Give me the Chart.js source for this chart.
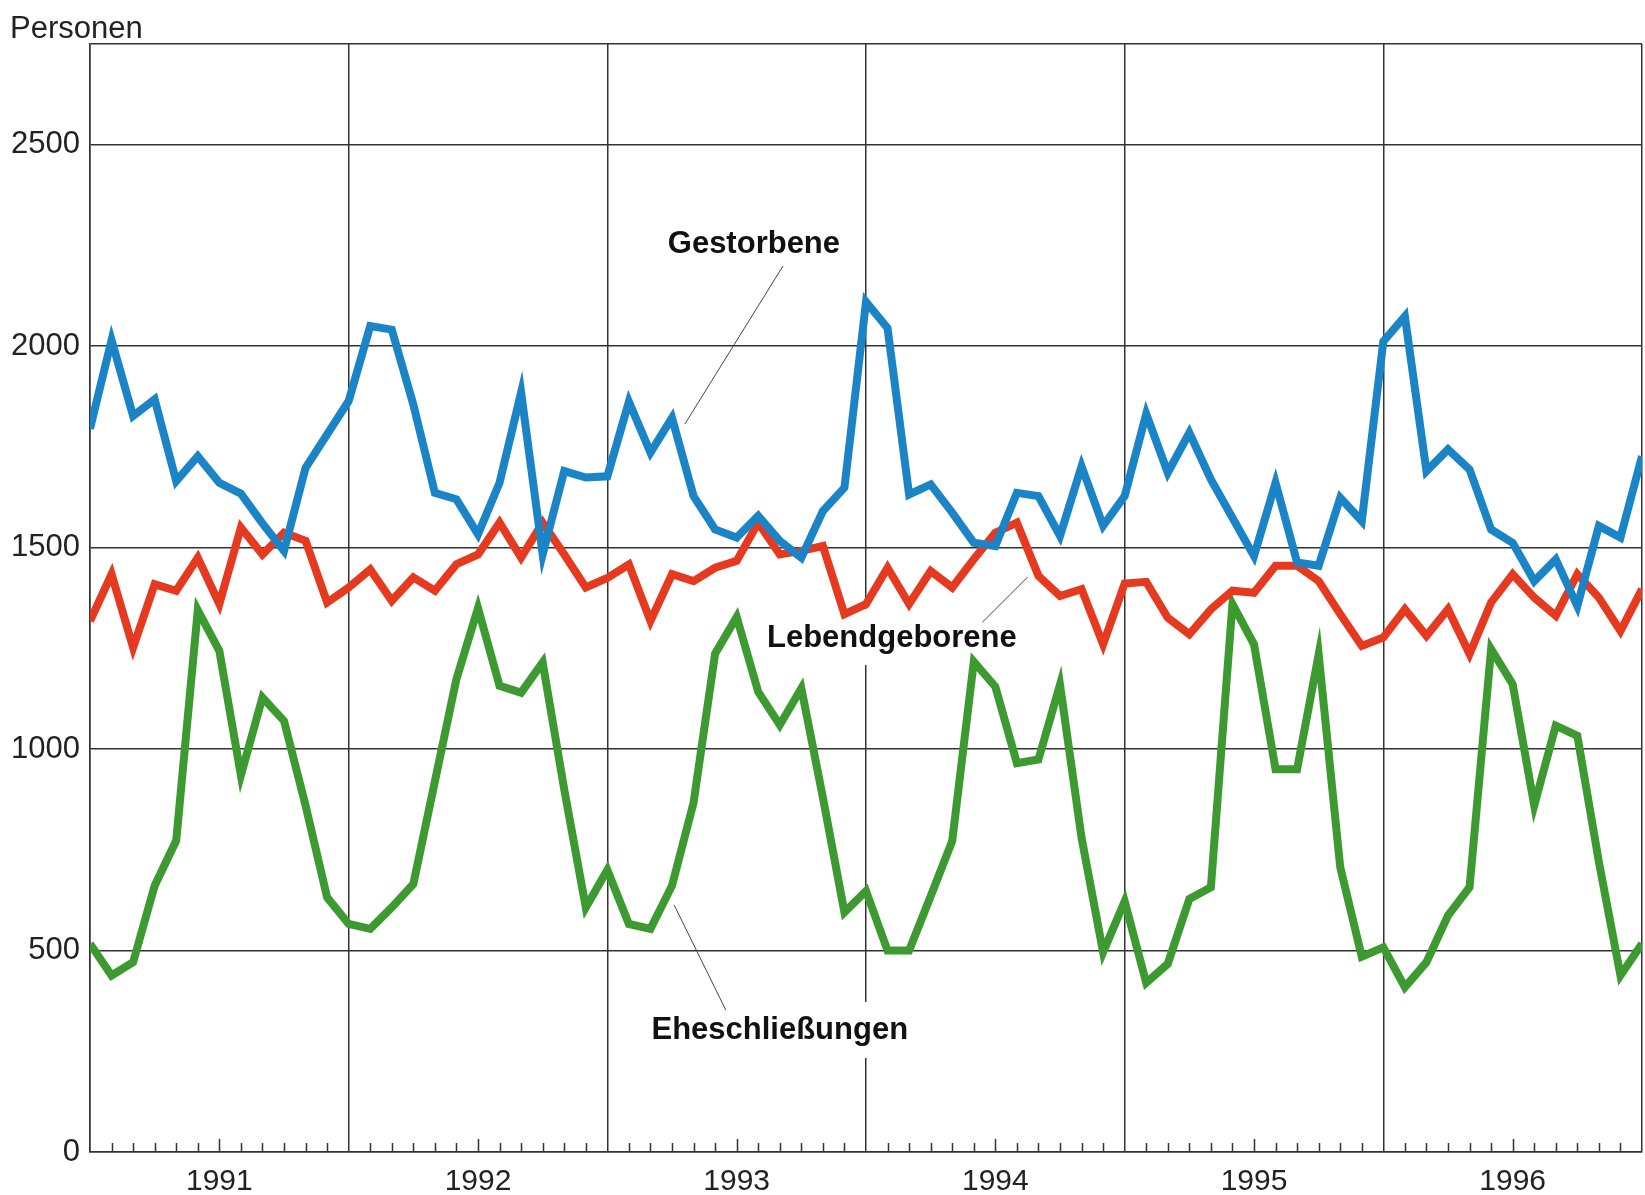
<!DOCTYPE html>
<html>
<head>
<meta charset="utf-8">
<title>Gestorbene, Lebendgeborene, Eheschließungen 1991-1996</title>
<script src="https://cdn.jsdelivr.net/npm/chart.js@4"></script>
<style>
	body { margin: 0; background: #fff; }
	canvas { display: block; }
</style>
</head>
<body>
<canvas id="main" width="1645" height="1195"></canvas>
<script>
// monthly values, Jan 1991 .. Jan 1997 (73 points, x = month index)
var years = ['1991', '1992', '1993', '1994', '1995', '1996'];
var yTicks = [0, 500, 1000, 1500, 2000, 2500, 2750];

var gestorbene = [
	1795, 2015, 1827, 1868, 1665, 1727, 1661, 1634, 1560, 1492, 1698, 1781,
	1864, 2050, 2041, 1855, 1636, 1620, 1533, 1661, 1885, 1483, 1690, 1674,
	1677, 1862, 1736, 1822, 1628, 1545, 1525, 1579, 1517, 1475, 1591, 1649,
	2110, 2045, 1632, 1657, 1587, 1512, 1504, 1636, 1628, 1529, 1702, 1554,
	1628, 1832, 1686, 1785, 1669, 1574, 1479, 1661, 1463, 1455, 1624, 1566,
	2012, 2074, 1690, 1744, 1694, 1545, 1512, 1417, 1471, 1355, 1554, 1525,
	1727
];
var lebendgeborene = [
	1318, 1434, 1252, 1409, 1393, 1475, 1360, 1550, 1483, 1537, 1517, 1364,
	1401, 1446, 1368, 1426, 1393, 1459, 1483, 1562, 1475, 1562, 1483, 1401,
	1425, 1458, 1318, 1434, 1417, 1450, 1467, 1562, 1483, 1492, 1504, 1335,
	1360, 1450, 1360, 1442, 1401, 1471, 1537, 1562, 1430, 1380, 1397, 1260,
	1411, 1415, 1326, 1285, 1347, 1393, 1388, 1455, 1455, 1417, 1335, 1256,
	1277, 1347, 1281, 1347, 1236, 1364, 1434, 1376, 1331, 1434, 1376, 1293,
	1397
];
var eheschliessungen = [
	517, 438, 471, 661, 773, 1345, 1244, 935, 1128, 1070, 860, 632,
	566, 554, 607, 665, 920, 1174, 1350, 1157, 1140, 1215, 900, 607,
	700, 566, 554, 661, 867, 1237, 1328, 1142, 1060, 1151, 880, 595,
	648, 500, 500, 635, 772, 1217, 1155, 965, 974, 1160, 780, 496,
	622, 420, 467, 628, 657, 1360, 1260, 950, 950, 1235, 707, 485,
	508, 409, 471, 587, 657, 1248, 1161, 860, 1058, 1033, 720, 438,
	517
];

// series labels with leader lines, in data units [month, persons]
var labels = [
	{text: 'Gestorbene', at: [30.8, 2256], line: [[32.15, 2199], [27.6, 1807]]},
	{text: 'Lebendgeborene', at: [37.2, 1278], line: [[41.4, 1315], [43.5, 1427]]},
	{text: 'Eheschließungen', at: [32.0, 303], line: [[27.1, 613], [29.5, 352]]}
];

var FONT = "'Liberation Sans', Arial, Helvetica, sans-serif";
var GRID = '#333';

function toPoints(arr){
	return arr.map(function(v, i){ return {x: i, y: v}; });
}

var annotate = {
	id: 'annotate',
	beforeDatasetsDraw: function(chart){
		var ctx = chart.ctx,
			xs = chart.scales.x,
			ys = chart.scales.y,
			area = chart.chartArea;

		// month tick marks on the x axis
		ctx.save();
		ctx.strokeStyle = GRID;
		ctx.lineWidth = 1.5;
		ctx.beginPath();
		for (var i = 1; i < 72; i++){
			if (i % 12 === 0) continue;
			var px = Math.round(xs.getPixelForValue(i)) + 0.5;
			var len = i % 12 === 6 ? 13 : 9;
			ctx.moveTo(px, area.bottom);
			ctx.lineTo(px, area.bottom - len);
		}
		ctx.stroke();
		ctx.restore();

		// series labels
		ctx.save();
		ctx.font = 'bold 31px ' + FONT;
		ctx.textAlign = 'center';
		ctx.textBaseline = 'middle';
		for (var j = 0; j < labels.length; j++){
			var lab = labels[j];
			var cx = xs.getPixelForValue(lab.at[0]),
				cy = ys.getPixelForValue(lab.at[1]);
			var w = ctx.measureText(lab.text).width;
			ctx.fillStyle = '#fff';
			ctx.fillRect(cx - w / 2 - 6, cy - 28, w + 12, 56);

			ctx.strokeStyle = '#444';
			ctx.lineWidth = 1;
			ctx.beginPath();
			ctx.moveTo(xs.getPixelForValue(lab.line[0][0]), ys.getPixelForValue(lab.line[0][1]));
			ctx.lineTo(xs.getPixelForValue(lab.line[1][0]), ys.getPixelForValue(lab.line[1][1]));
			ctx.stroke();

			ctx.fillStyle = '#111';
			ctx.fillText(lab.text, cx, cy + 1);
		}
		ctx.restore();
	},
	afterDraw: function(chart){
		var ctx = chart.ctx;
		ctx.save();
		ctx.font = '31px ' + FONT;
		ctx.fillStyle = '#222';
		ctx.textAlign = 'left';
		ctx.textBaseline = 'alphabetic';
		ctx.fillText('Personen', 10, 38);
		ctx.restore();
	}
};

var ctx = document.getElementById('main').getContext('2d');

var chart = new Chart(ctx, {
	type: 'line',
	data: {
		datasets: [
			{label: 'Gestorbene', data: toPoints(gestorbene), borderColor: '#1b84c6'},
			{label: 'Lebendgeborene', data: toPoints(lebendgeborene), borderColor: '#e63a20'},
			{label: 'Eheschließungen', data: toPoints(eheschliessungen), borderColor: '#3d9a31'}
		]
	},
	options: {
		responsive: false,
		animation: false,
		devicePixelRatio: 1,
		layout: {padding: {top: 44, right: 3, left: 0, bottom: 0}},
		elements: {
			line: {borderWidth: 8, tension: 0, borderJoinStyle: 'miter', fill: false},
			point: {radius: 0, hoverRadius: 0}
		},
		plugins: {
			legend: {display: false},
			tooltip: {enabled: false}
		},
		scales: {
			x: {
				type: 'linear',
				min: 0,
				max: 72,
				afterBuildTicks: function(scale){
					var t = [];
					for (var i = 0; i <= 72; i++) t.push({value: i});
					scale.ticks = t;
				},
				afterFit: function(scale){
					scale.height = 43;
					scale.paddingLeft = 0;
					scale.paddingRight = 0;
				},
				ticks: {
					autoSkip: false,
					maxRotation: 0,
					padding: 12,
					color: '#222',
					font: {family: FONT, size: 30},
					callback: function(v){
						return v % 12 === 6 ? years[(v - 6) / 12] : '';
					}
				},
				grid: {
					drawTicks: false,
					lineWidth: 1.5,
					color: function(c){
						return c.tick && c.tick.value % 12 === 0 ? GRID : 'rgba(0,0,0,0)';
					}
				},
				border: {display: true, color: GRID, width: 1.5}
			},
			y: {
				min: 0,
				max: 2750,
				afterBuildTicks: function(scale){
					scale.ticks = yTicks.map(function(v){ return {value: v}; });
				},
				afterFit: function(scale){ scale.width = 90; },
				ticks: {
					padding: 10,
					color: '#222',
					font: {family: FONT, size: 31},
					callback: function(v){ return v === 2750 ? '' : String(v); }
				},
				grid: {drawTicks: false, lineWidth: 1.5, color: GRID},
				border: {display: true, color: GRID, width: 1.5}
			}
		}
	},
	plugins: [annotate]
});
</script>
</body>
</html>
